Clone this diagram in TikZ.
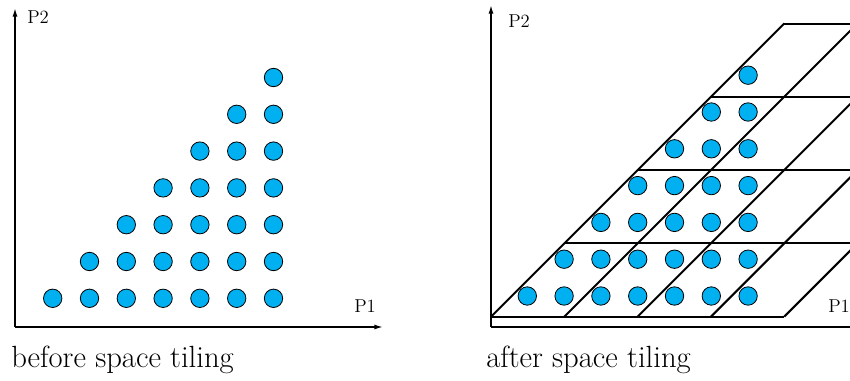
\documentclass[tikz,border=0pt]{standalone}
\usepackage{tikz}
\usepackage{xcolor}
\usetikzlibrary{arrows.meta}
\definecolor{pointblue}{RGB}{0,176,240}

\begin{document}
\begin{tikzpicture}[x=0.75pt, y=0.75pt,
    pt/.style={draw, circle, fill=pointblue, line width=0.6pt, minimum size=13.8pt, inner sep=0pt},
    axis/.style={line width=1.1pt, -{Latex[length=6.5pt, width=3.8pt]}},
    tile/.style={line width=1.5pt},
    lbl/.style={font=\fontsize{14}{16}\selectfont, anchor=base west, inner sep=0pt},
    caption/.style={font=\fontsize{23}{26}\selectfont, anchor=base west, inner sep=0pt}]
    \useasboundingbox (0,0) rectangle (850,380);

    % before space tiling
    \coordinate (oa) at (15,53);
    \coordinate (ya) at (15,372);
    \coordinate (xa) at (383,53);
    \draw[axis] (oa) -- (ya);
    \draw[axis] (oa) -- (xa);
    \foreach \j in {1,...,7} {
        \foreach \i in {\j,...,7} {
            \node[pt] (a\i\j) at ({52.7+36.8*(\i-1)}, {81.7+36.8*(\j-1)}) {};
        }
    }
    \node[lbl] (pa2) at (27,357) {P2};
    \node[lbl] (pa1) at (354,68) {P1};
    \node[caption] (capa) at (11,13) {before space tiling};

    % after space tiling
    \coordinate (ob) at (491,53);
    \coordinate (yb) at (491,375);
    \coordinate (xb) at (880,53);
    \draw[axis] (ob) -- (yb);
    \draw[axis] (ob) -- (xb);
    \foreach \k in {0,...,4} {
        \draw[tile] ({491+73.3*\k}, {63.3+73.3*\k}) -- ++(293.3,0);
        \draw[tile] ({491+73.3*\k}, 63.3) -- ++(293.3,293.3);
    }
    \foreach \j in {1,...,7} {
        \foreach \i in {\j,...,7} {
            \node[pt] (b\i\j) at ({527.3+36.8*(\i-1)}, {84+36.8*(\j-1)}) {};
        }
    }
    \node[lbl] (pb2) at (508,353) {P2};
    \node[lbl] (pb1) at (828,68) {P1};
    \node[caption] (capb) at (486,13) {after space tiling};
\end{tikzpicture}
\end{document}
